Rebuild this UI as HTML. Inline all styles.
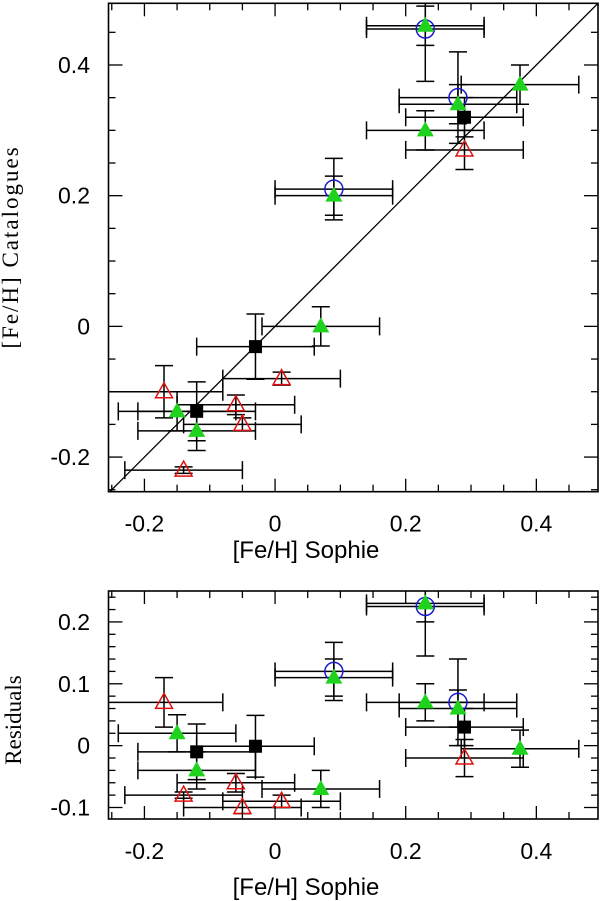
<!DOCTYPE html>
<html><head><meta charset="utf-8"><style>
html,body{margin:0;padding:0;background:#fff;}
svg{display:block;}
text{font-family:"Liberation Sans",sans-serif;font-size:23px;fill:#000;}
.serif{font-family:"Liberation Serif",serif;font-size:23px;}
.title{font-size:24px;}
</style></head><body>
<svg id="chart" width="600" height="901" viewBox="0 0 600 901">
<defs>
<clipPath id="clipTop"><rect x="108.5" y="3.3" width="489.5" height="488.4"/></clipPath>
<clipPath id="clipBot"><rect x="108.5" y="591" width="489.5" height="228"/></clipPath>
</defs>
<g id="topPanel"></g>
<g id="botPanel"></g>
<text x="18" y="247" class="serif" letter-spacing="2" text-anchor="middle" transform="rotate(-90 18 247)">[Fe/H] Catalogues</text>
<text x="21" y="720" class="serif" font-size="24" text-anchor="middle" transform="rotate(-90 21 720)">Residuals</text>
<text x="306" y="558" class="title" text-anchor="middle">[Fe/H] Sophie</text>
<text x="306" y="895" class="title" text-anchor="middle">[Fe/H] Sophie</text>
</svg>
<script>
// Black squares
const sqX = [0.29, -0.03, -0.12];
const sqY = [0.32, -0.031, -0.13];
const sqYErr = [0.03, 0.05, 0.045];
// Green filled triangles
const grX = [0.23, 0.28, 0.23, 0.375, 0.09, 0.07, -0.15, -0.12];
const grY = [0.46, 0.34, 0.30, 0.37, 0.20, 0.0, -0.13, -0.16];
const grYErr = [0.03, 0.03, 0.03, 0.03, 0.03, 0.03, 0.03, 0.03];
// Blue open circles
const ciX = [0.23, 0.28, 0.09];
const ciY = [0.455, 0.35, 0.21];
const ciYErr = [0.08, 0.07, 0.047];
// Red open triangles
const rdX = [0.29, 0.01, -0.17, -0.06, -0.05, -0.14];
const rdY = [0.27, -0.08, -0.10, -0.12, -0.15, -0.22];
const rdYErr = [0.03, 0.01, 0.04, 0.015, 0.01, 0.005];
const xErr = 0.09;
// Ticks
const xTickLabels = [-0.2, 0, 0.2, 0.4];
const yTickLabels = [-0.2, 0, 0.2, 0.4];
const resTickLabels = [-0.1, 0, 0.1, 0.2];

const NS = 'http://www.w3.org/2000/svg';
const L = 108.5, R = 598;
const X0 = -0.255, X1 = 0.4944;
const sx = v => L + (v - X0) / (X1 - X0) * (R - L);
const T1 = 3.3, B1 = 491.7, Y0 = -0.253, Y1 = 0.4944;
const sy = v => B1 - (v - Y0) / (Y1 - Y0) * (B1 - T1);
const T2 = 591, B2 = 819, RY0 = -0.1186, RY1 = 0.250;
const ry = v => B2 - (v - RY0) / (RY1 - RY0) * (B2 - T2);

function mk(tag, attrs, parent) {
  const e = document.createElementNS(NS, tag);
  for (const k in attrs) e.setAttribute(k, attrs[k]);
  parent.appendChild(e);
  return e;
}
function line(p, x1, y1, x2, y2, w) {
  return mk('line', {x1, y1, x2, y2, stroke: '#000', 'stroke-width': w || 1.5}, p);
}

function axes(g, T, B, yfun, ymin, ymax, ystep, ymajor, ylabels, name) {
  const f = mk('rect', {x: L, y: T, width: R - L, height: B - T, fill: 'none', stroke: '#000', 'stroke-width': 1.6}, g);
  
  
  for (let i = -5; i <= 9; i++) {
    const v = i * 0.05, x = sx(v);
    if (x <= L + 1 || x >= R - 1) continue;
    const len = (Math.abs(Math.round(v * 100)) % 20 === 0) ? 13 : 7;
    line(g, x, B, x, B - len, 1.3);
    line(g, x, T, x, T + len, 1.3);
  }
  const n0 = Math.ceil(ymin / ystep - 1e-6), n1 = Math.floor(ymax / ystep + 1e-6);
  const per = Math.round(ymajor / ystep);
  for (let i = n0; i <= n1; i++) {
    const v = i * ystep, y = yfun(v);
    if (y <= T + 1 || y >= B - 1) continue;
    const major = (((i % per) + per) % per) === 0;
    const len = major ? 14 : 7;
    line(g, L, y, L + len, y, 1.3);
    line(g, R, y, R - len, y, 1.3);
  }
  ylabels.forEach(v => {
    const t = mk('text', {x: 90, y: yfun(v) + 8, 'text-anchor': 'end'}, g);
    t.textContent = v === 0 ? '0' : String(v);
    
    
  });
  xTickLabels.forEach(v => {
    const t = mk('text', {x: sx(v), y: B + 40, 'text-anchor': 'middle'}, g);
    t.textContent = v === 0 ? '0' : String(v);
    
    
  });
}

function errbars(g, xs, ys, yerrs, yfun) {
  xs.forEach((x, i) => {
    const y = ys[i], e = yerrs[i];
    const eg = mk('g', {}, g);
    
    
    const px = sx(x), py = yfun(y);
    const xa = sx(x - xErr), xb = sx(x + xErr);
    line(eg, xa, py, xb, py);
    line(eg, xa, py - 9, xa, py + 9);
    line(eg, xb, py - 9, xb, py + 9);
    const ya = yfun(y - e), yb = yfun(y + e);
    line(eg, px, ya, px, yb);
    line(eg, px - 9, ya, px + 9, ya);
    line(eg, px - 9, yb, px + 9, yb);
  });
}

function markers(g, xs, ys, yfun, type) {
  xs.forEach((x, i) => {
    const px = sx(x), py = yfun(ys[i]);
    let m;
    if (type === 'square') {
      m = mk('rect', {x: px - 6.5, y: py - 6.5, width: 13, height: 13, fill: '#000'}, g);
      
    } else if (type === 'green') {
      m = mk('polygon', {points: `${px},${py - 9} ${px - 8.5},${py + 6} ${px + 8.5},${py + 6}`, fill: '#1ed21e'}, g);
      
    } else if (type === 'circle') {
      m = mk('circle', {cx: px, cy: py, r: 9, fill: 'none', stroke: '#1a1acc', 'stroke-width': 1.5}, g);
      
    } else {
      m = mk('polygon', {points: `${px},${py - 9} ${px - 8.5},${py + 6} ${px + 8.5},${py + 6}`, fill: 'none', stroke: '#e01010', 'stroke-width': 1.5}, g);
      
    }
    
  });
}

function panel(g, yfun, resid, clip) {
  const data = mk('g', {'clip-path': 'url(#' + clip + ')'}, g);
  
  
  const f = (xs, ys) => resid ? ys.map((y, i) => y - xs[i]) : ys;
  const series = [[sqX, sqY, sqYErr, 'square'], [grX, grY, grYErr, 'green'], [ciX, ciY, ciYErr, 'circle'], [rdX, rdY, rdYErr, 'red']];
  series.forEach(s => errbars(data, s[0], f(s[0], s[1]), s[2], yfun));
  [series[2], series[1], series[3], series[0]].forEach(s => markers(data, s[0], f(s[0], s[1]), yfun, s[3]));
  return data;
}

const topG = document.getElementById('topPanel');
const botG = document.getElementById('botPanel');
const diag = mk('line', {x1: sx(X0), y1: sy(X0), x2: sx(X1), y2: sy(X1), stroke: '#000', 'stroke-width': 1.3, 'clip-path': 'url(#clipTop)'}, topG);


panel(topG, sy, false, 'clipTop');
axes(topG, T1, B1, sy, Y0, Y1, 0.05, 0.2, yTickLabels, 'main');
panel(botG, ry, true, 'clipBot');
axes(botG, T2, B2, ry, RY0, RY1, 0.02, 0.1, resTickLabels, 'residuals');
</script>
</body></html>
